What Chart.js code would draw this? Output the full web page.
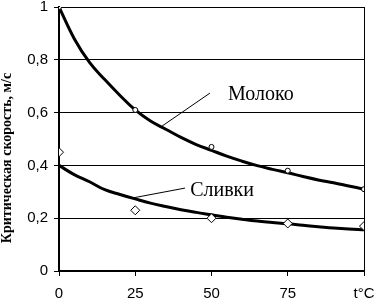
<!DOCTYPE html>
<html>
<head>
<meta charset="utf-8">
<script src="https://cdn.jsdelivr.net/npm/chart.js@4/dist/chart.umd.min.js"></script>
<style>
  html, body { margin: 0; padding: 0; background: #fff; }
</style>
</head>
<body>
<canvas id="chart" width="375" height="300"></canvas>
<script>
// measured points
const temps = [0, 25, 50, 75, 100];
const milk = [1.0, 0.61, 0.47, 0.38, 0.31];
const cream = [0.45, 0.23, 0.2, 0.18, 0.17];

// trend curves
const curveT = [0, 5, 10, 15, 20, 25, 30, 35, 40, 45, 50, 55, 60, 65, 70, 75, 80, 85, 90, 95, 100];
const milkCurve = [1.0, 0.88, 0.79, 0.725, 0.665, 0.61, 0.568, 0.537, 0.506, 0.479, 0.457, 0.435, 0.416, 0.399, 0.385, 0.372, 0.358, 0.345, 0.334, 0.322, 0.31];
const creamCurve = [0.4, 0.365, 0.338, 0.308, 0.29, 0.273, 0.257, 0.244, 0.232, 0.222, 0.213, 0.204, 0.196, 0.189, 0.184, 0.179, 0.173, 0.168, 0.163, 0.159, 0.156];

const yTicks = [0, 0.2, 0.4, 0.6, 0.8, 1];
const xTickLabels = { 0: "0", 25: "25", 50: "50", 75: "75", 100: "t°C" };

const xy = (xs, ys) => xs.map((x, i) => ({ x: x, y: ys[i] }));

// labels with leader lines, in data units
const notes = [
  { text: "Молоко", x: 55.4, y: 0.648, line: [[33.8, 0.549], [49.5, 0.674]] },
  { text: "Сливки", x: 43, y: 0.284, line: [[24.3, 0.277], [41.3, 0.314]] }
];

const notesPlugin = {
  id: "notes",
  afterDatasetsDraw(chart) {
    const ctx = chart.ctx;
    const xs = chart.scales.x, ys = chart.scales.y;
    ctx.save();
    ctx.fillStyle = "#000";
    ctx.strokeStyle = "#000";
    ctx.lineWidth = 1;
    ctx.font = "20px 'Liberation Serif'";
    ctx.textBaseline = "alphabetic";
    notes.forEach(n => {
      ctx.beginPath();
      ctx.moveTo(xs.getPixelForValue(n.line[0][0]), ys.getPixelForValue(n.line[0][1]));
      ctx.lineTo(xs.getPixelForValue(n.line[1][0]), ys.getPixelForValue(n.line[1][1]));
      ctx.stroke();
      ctx.fillText(n.text, xs.getPixelForValue(n.x), ys.getPixelForValue(n.y));
    });
    // y axis title
    ctx.translate(7, 158);
    ctx.rotate(-Math.PI / 2);
    ctx.font = "bold 14px 'Liberation Serif'";
    ctx.textAlign = "center";
    ctx.textBaseline = "middle";
    ctx.fillText("Критическая скорость, м/с", 0, 0);
    ctx.restore();
  }
};

new Chart(document.getElementById("chart"), {
  type: "scatter",
  data: {
    datasets: [
      {
        label: "Молоко",
        data: xy(temps, milk),
        pointStyle: "circle",
        pointRadius: 2.5,
        pointBorderWidth: 1,
        pointBackgroundColor: "#fff",
        pointBorderColor: "#000",
      },
      {
        label: "Сливки",
        data: xy(temps, cream),
        pointStyle: "rectRot",
        pointRadius: 4.5,
        pointBorderWidth: 1,
        pointBackgroundColor: "#fff",
        pointBorderColor: "#000",
      },
      {
        label: "Молоко тренд",
        data: xy(curveT, milkCurve),
        showLine: true,
        borderColor: "#000",
        borderWidth: 3,
        pointRadius: 0,
        tension: 0.4,
      },
      {
        label: "Сливки тренд",
        data: xy(curveT, creamCurve),
        showLine: true,
        borderColor: "#000",
        borderWidth: 3,
        pointRadius: 0,
        tension: 0.4,
      },
    ],
  },
  options: {
    responsive: false,
    animation: false,
    layout: { padding: { top: 7, right: 11, left: 0, bottom: 0 } },
    plugins: {
      legend: { display: false },
      tooltip: { enabled: false },
    },
    scales: {
      x: {
        type: "linear",
        min: 0,
        max: 100,
        afterFit: (s) => { s.height = 29; s.paddingLeft = 0; s.paddingRight = 0; },
        afterBuildTicks: (s) => { s.ticks = temps.map(v => ({ value: v })); },
        border: { display: true, color: "#000", width: 2 },
        grid: {
          color: (c) => (c.tick && c.tick.value === 100 ? "#000" : "rgba(0,0,0,0)"),
          lineWidth: 1,
          tickLength: 5,
          tickColor: "#000",
        },
        ticks: {
          color: "#000",
          font: { family: "'Liberation Sans'", size: 15, lineHeight: 1 },
          padding: 10,
          maxRotation: 0,
          callback: (v) => xTickLabels[v],
        },
      },
      y: {
        min: 0,
        max: 1,
        afterFit: (s) => { s.width = 59; s.paddingTop = 0; s.paddingBottom = 0; },
        afterBuildTicks: (s) => { s.ticks = yTicks.map(v => ({ value: v })); },
        border: { display: true, color: "#000", width: 2 },
        grid: {
          color: "#000",
          lineWidth: 1,
          tickLength: 5,
          tickColor: "#000",
        },
        ticks: {
          color: "#000",
          font: { family: "'Liberation Sans'", size: 15, lineHeight: 1 },
          padding: 6,
          callback: (v) => (v === 0 || v === 1 ? String(v) : v.toFixed(1).replace(".", ",")),
        },
      },
    },
  },
  plugins: [notesPlugin],
});
</script>
</body>
</html>
